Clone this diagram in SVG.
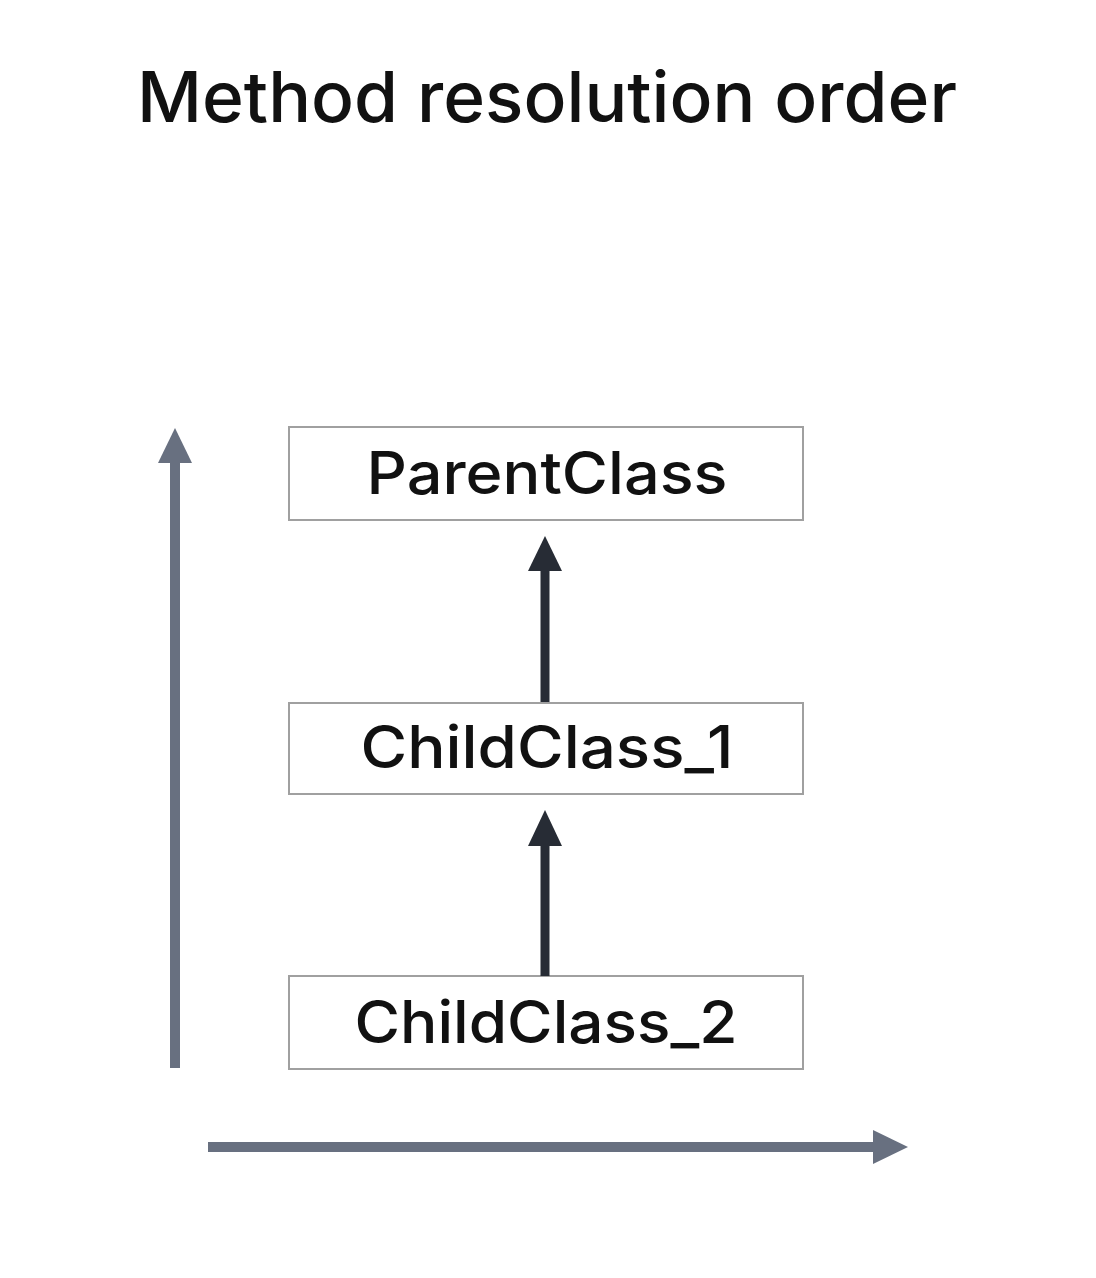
<svg xmlns="http://www.w3.org/2000/svg" width="1096" height="1278" viewBox="0 0 1096 1278">
<style>
.title{font-family:Inter,"Liberation Sans",sans-serif;font-size:70px;font-weight:500;fill:#111}
.box{fill:#fff;stroke:#a0a0a0;stroke-width:2}
.lbl{font-family:Inter,"Liberation Sans",sans-serif;font-size:59px;font-weight:500;fill:#111;text-anchor:middle}
.dark{stroke:#272c35;stroke-width:9;fill:none}
.gray{stroke:#687080;stroke-width:10;fill:none}
</style>
<rect width="1096" height="1278" fill="#fff"/>
<text class="title" x="547" y="122" text-anchor="middle" textLength="820" lengthAdjust="spacingAndGlyphs">Method resolution order</text>
<g id="axis-left">
<line class="gray" x1="175" y1="1068" x2="175" y2="455"/>
<polygon points="175,428 192,463 158,463" fill="#687080"/>
</g>
<g id="axis-bottom">
<line class="gray" x1="208" y1="1147" x2="880" y2="1147"/>
<polygon points="908,1147 873,1130 873,1164" fill="#687080"/>
</g>
<g id="ParentClass">
<rect class="box" x="289" y="427" width="514" height="93"/>
<text class="lbl" x="547" y="494" textLength="361" lengthAdjust="spacingAndGlyphs">ParentClass</text>
</g>
<g id="ChildClass_1">
<rect class="box" x="289" y="703" width="514" height="91"/>
<text class="lbl" x="547" y="768" textLength="373" lengthAdjust="spacingAndGlyphs">ChildClass_1</text>
</g>
<g id="ChildClass_2">
<rect class="box" x="289" y="976" width="514" height="93"/>
<text class="lbl" x="546" y="1043" textLength="383" lengthAdjust="spacingAndGlyphs">ChildClass_2</text>
</g>
<g id="connectors">
<line class="dark" x1="545" y1="702" x2="545" y2="565"/>
<polygon points="545,536 562,571 528,571" fill="#272c35"/>
<line class="dark" x1="545" y1="976" x2="545" y2="840"/>
<polygon points="545,810 562,846 528,846" fill="#272c35"/>
</g>
</svg>
